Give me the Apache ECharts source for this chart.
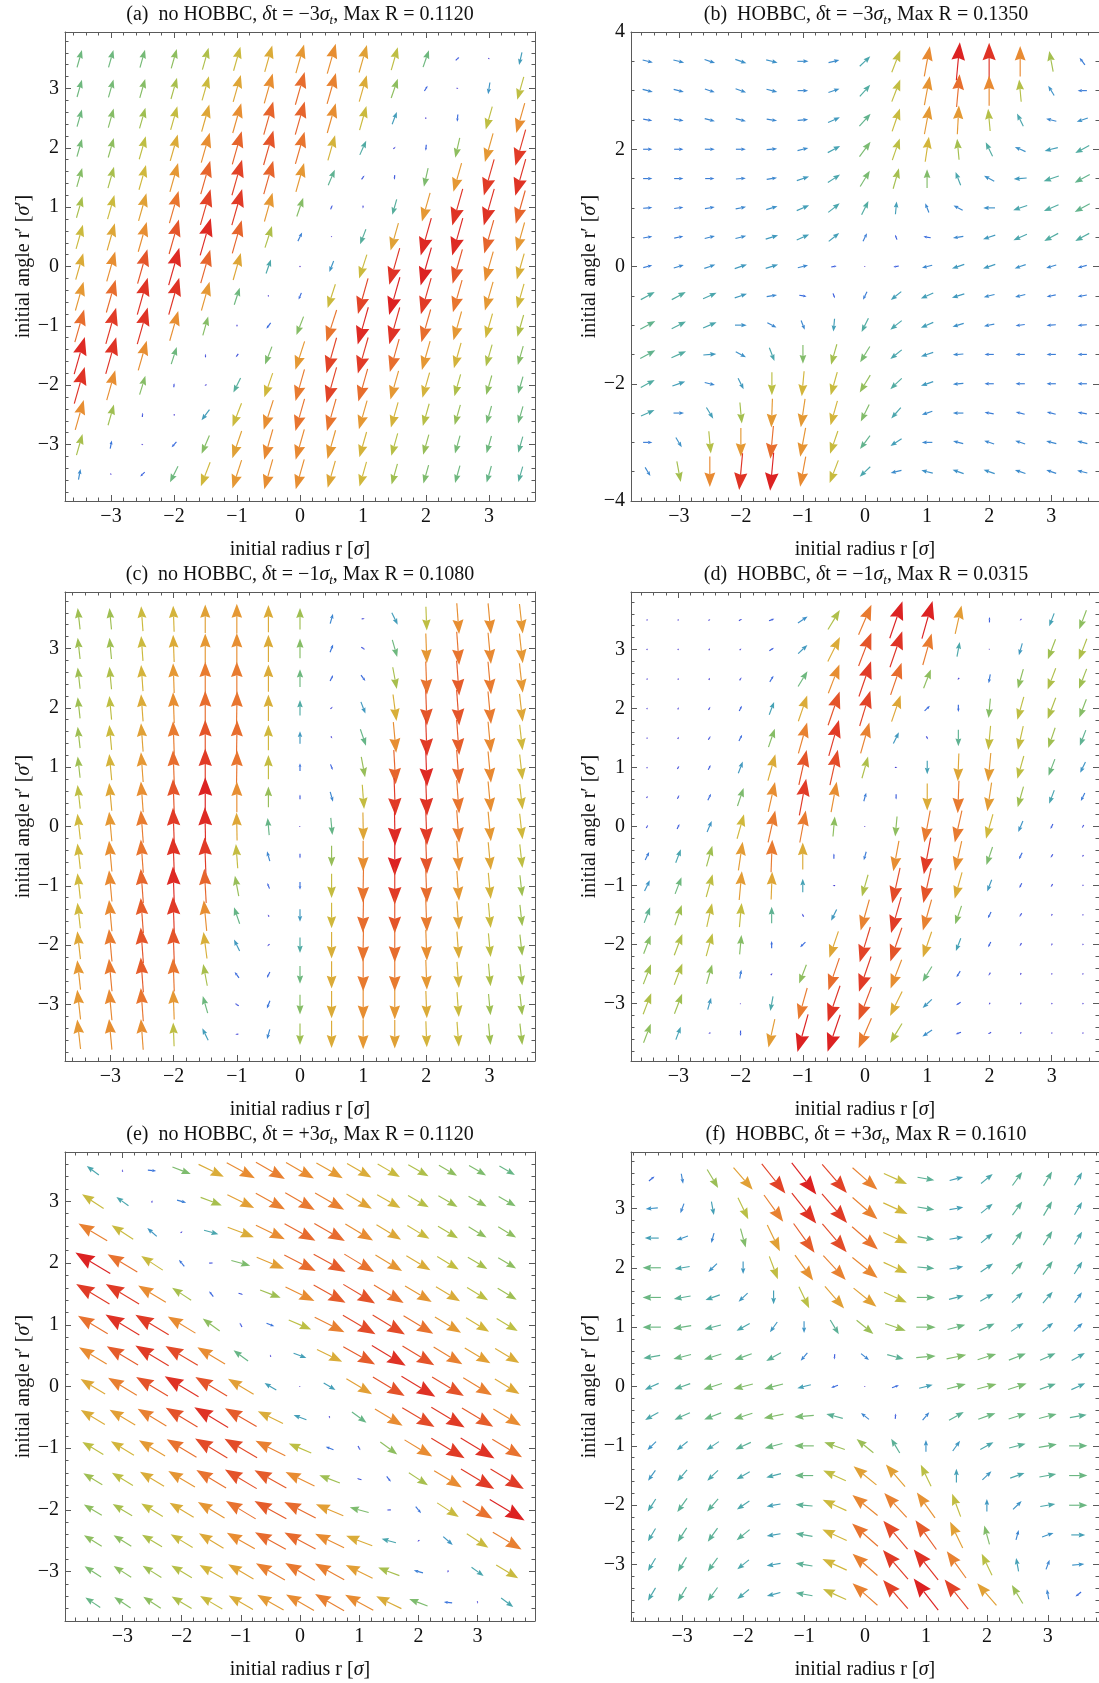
<!DOCTYPE html>
<html><head><meta charset="utf-8">
<script src="https://cdn.jsdelivr.net/npm/echarts@6/dist/echarts.min.js"></script>
<style>html,body{margin:0;padding:0;background:#fff}#c{width:1099px;height:1683px}</style>
</head><body><div id="c"></div>
<script>
// ---------------- DATA ----------------
const gridX = [-3.5,-3,-2.5,-2,-1.5,-1,-0.5,0,0.5,1,1.5,2,2.5,3,3.5];
const gridY = [3.5,3,2.5,2,1.5,1,0.5,0,-0.5,-1,-1.5,-2,-2.5,-3,-3.5];

// arrow lengths (hundredths of an axis unit) and directions (degrees), rows top -> bottom
const lenA = [
[30,30,31,34,38,42,46,50,52,48,40,30,8,3,22],
[30,31,33,37,42,47,52,57,54,46,34,10,3,20,40],
[30,33,36,41,47,52,58,58,52,42,22,3,12,40,52],
[31,34,40,46,52,58,60,56,44,26,5,10,34,50,63],
[33,37,43,50,58,62,58,50,28,8,8,32,50,63,64],
[37,42,48,56,62,63,50,33,8,5,27,50,64,64,58],
[42,47,52,60,65,58,38,16,2,27,48,65,65,58,50],
[46,52,60,65,58,47,25,1,20,42,64,66,60,52,45],
[50,57,64,64,50,30,3,12,42,62,66,63,56,50,43],
[57,63,64,52,33,4,12,33,56,65,64,57,50,43,38],
[65,64,52,30,6,7,32,50,62,63,57,50,44,38,33],
[64,52,33,7,4,27,43,55,62,57,50,44,38,34,30],
[52,36,7,3,22,42,52,56,56,50,44,39,35,31,30],
[37,14,3,12,33,48,53,53,50,44,39,35,31,30,28],
[18,3,10,30,43,50,52,52,47,43,36,32,30,29,27]
];
const angA = [
[75,75,75,75,75,75,75,75,75,75,75,72,45,320,258],
[75,75,75,75,75,75,75,75,75,75,72,60,340,262,255],
[75,75,75,75,75,75,75,75,75,75,70,0,265,255,255],
[75,75,75,75,75,75,75,75,75,67,45,265,258,255,255],
[75,75,75,75,75,75,75,75,68,55,265,258,255,255,255],
[75,75,75,75,75,75,75,72,70,265,255,255,255,255,255],
[75,75,75,75,75,75,73,65,270,250,255,255,255,255,255],
[75,75,75,75,75,75,72,90,250,253,255,255,255,255,255],
[75,75,75,75,75,73,300,248,253,255,255,255,255,255,255],
[75,75,75,75,75,270,235,250,253,255,255,255,255,255,255],
[75,75,75,73,90,235,250,253,255,255,255,255,255,255,255],
[75,75,74,85,220,245,252,255,255,255,255,255,255,255,255],
[75,75,85,180,235,250,253,255,255,255,255,255,255,255,255],
[75,80,330,230,248,252,255,255,255,255,255,255,255,255,255],
[80,315,225,245,250,253,255,255,255,255,255,255,255,255,255]
];

const lenB = [
[17,18,18,19,19,18,18,24,40,52,65,63,52,36,15],
[17,17,17,18,18,17,19,26,40,50,56,52,38,19,15],
[15,16,17,17,17,17,21,28,41,49,49,38,24,17,19],
[15,15,16,16,17,18,23,31,39,43,36,26,19,22,26],
[15,15,15,16,17,21,24,31,36,32,24,19,21,26,28],
[15,15,16,17,19,22,24,26,22,17,17,19,24,26,28],
[15,15,17,18,21,22,22,15,9,12,17,21,24,26,26],
[15,17,19,21,21,17,9,2,9,17,21,21,19,17,15],
[26,26,24,21,17,12,9,15,22,22,21,18,17,15,15],
[28,26,24,19,17,17,22,26,24,22,19,17,15,15,15],
[28,26,21,19,24,32,36,31,24,21,17,15,15,15,15],
[26,22,17,21,39,43,41,34,26,21,17,15,15,15,15],
[24,17,22,36,49,49,43,32,24,18,17,15,15,15,15],
[15,19,38,49,56,50,41,28,22,17,17,17,17,17,17],
[17,36,52,63,65,52,41,24,18,19,19,19,18,17,17]
];
const angB = [
[345,345,340,340,345,0,15,45,70,80,85,90,90,100,125],
[345,345,340,340,345,0,20,50,70,80,85,90,95,120,180],
[350,350,345,345,350,5,25,50,72,80,87,95,115,165,200],
[0,0,0,0,5,15,30,55,72,82,95,115,155,195,210],
[0,0,0,5,10,20,35,60,75,90,110,150,185,200,210],
[5,8,10,12,18,25,40,65,85,110,150,180,200,205,210],
[10,12,15,15,18,25,40,65,110,170,190,200,205,210,210],
[15,18,20,20,18,15,10,0,190,195,200,200,200,198,195],
[30,30,25,20,10,350,290,245,220,205,198,195,195,192,190],
[30,28,25,0,330,290,265,245,220,205,198,192,188,185,185],
[30,25,5,330,290,270,255,240,220,200,185,180,180,180,180],
[30,20,345,295,270,265,255,240,225,200,185,180,180,180,180],
[25,0,300,275,268,262,255,245,230,200,180,170,165,165,170],
[0,300,275,270,265,260,252,235,215,180,165,160,160,165,165],
[300,280,270,265,265,260,250,225,195,165,160,160,160,160,165]
];

const lenC = [
[36,36,42,44,48,50,46,36,17,5,22,40,52,52,50],
[36,36,42,46,50,52,46,33,14,7,30,50,56,53,50],
[36,38,44,50,55,55,46,30,11,12,37,56,59,55,50],
[36,40,46,52,57,56,45,26,5,21,45,60,60,55,47],
[36,42,48,55,60,57,43,21,4,29,52,63,59,53,43],
[36,44,50,57,63,56,41,13,10,35,58,65,58,53,43],
[40,47,52,60,66,52,35,8,17,41,63,64,56,52,43],
[43,50,55,63,65,47,29,2,29,47,65,63,55,50,43],
[43,52,56,64,63,41,17,8,35,52,66,60,52,47,40],
[43,53,58,65,58,35,10,13,41,56,63,57,50,44,36],
[43,53,59,63,52,29,4,21,43,57,60,55,48,42,36],
[47,55,60,60,45,21,5,26,45,56,57,52,46,40,36],
[50,55,59,56,37,12,11,30,46,55,55,50,44,38,36],
[50,53,56,50,30,7,14,33,46,52,50,46,42,36,36],
[50,52,52,40,22,5,17,36,46,50,48,44,42,36,36]
];
const angC = [
[96,95,94,92,90,90,90,90,75,10,295,272,274,275,276],
[96,95,94,92,90,90,90,90,70,330,285,272,274,275,276],
[96,95,94,92,90,90,90,90,65,305,280,272,274,275,276],
[96,95,94,92,90,89,90,90,45,290,277,272,274,275,276],
[96,95,94,92,90,89,90,90,300,288,275,272,274,275,276],
[96,95,94,92,90,89,90,90,290,280,273,272,274,275,276],
[96,95,94,92,90,90,90,90,285,274,272,272,274,275,276],
[96,95,94,92,91,91,95,0,275,271,271,272,274,275,276],
[96,95,94,92,92,94,105,270,270,270,270,272,274,275,276],
[96,95,94,92,93,100,110,270,270,269,270,272,274,275,276],
[96,95,94,92,95,108,120,270,270,269,270,272,274,275,276],
[96,95,94,92,97,115,225,270,270,269,270,272,274,275,276],
[96,95,94,92,100,125,245,270,270,270,270,272,274,275,276],
[96,95,94,92,105,150,250,270,270,270,270,272,274,275,276],
[96,95,94,92,115,190,255,270,270,270,270,272,274,275,276]
];

const lenD = [
[3,3,4,6,9,19,38,55,66,66,49,9,4,23,34],
[3,3,4,4,9,21,46,60,64,55,25,2,21,36,38],
[3,3,4,6,12,30,52,63,57,34,4,15,34,38,36],
[3,4,6,10,23,46,60,62,47,12,12,33,40,38,33],
[3,4,7,12,33,54,63,54,21,6,28,41,41,36,28],
[3,6,9,21,46,60,61,38,4,23,47,49,40,30,20],
[4,7,12,32,52,63,52,15,9,46,55,49,36,24,15],
[6,9,20,43,55,55,34,2,34,55,55,43,20,9,6],
[15,24,36,49,55,46,9,15,52,63,52,32,12,7,4],
[20,30,40,49,47,23,4,38,61,60,46,21,9,6,3],
[28,36,41,41,28,6,21,54,63,54,33,12,7,4,3],
[33,38,40,33,12,12,47,62,60,46,23,10,6,4,3],
[36,38,34,15,4,34,57,63,52,30,12,6,4,3,3],
[38,36,21,2,25,55,64,60,46,21,9,4,4,3,3],
[34,23,4,9,49,66,66,55,38,19,9,6,4,3,3]
];
const angD = [
[60,60,45,30,20,35,60,68,72,75,78,90,225,250,250],
[60,60,60,45,35,45,65,70,72,75,80,0,255,250,250],
[60,60,60,60,60,60,70,72,72,70,225,260,255,250,250],
[60,60,60,65,70,72,72,74,72,45,270,265,255,250,250],
[60,60,60,65,72,75,75,75,65,300,270,265,258,252,250],
[60,60,65,70,75,78,78,75,0,270,268,265,255,250,245],
[60,65,65,72,78,80,80,75,270,270,268,262,255,250,245],
[60,65,68,75,78,80,85,0,265,260,258,255,248,245,240],
[65,70,75,82,88,90,90,255,260,260,258,252,245,240,240],
[65,70,75,85,88,90,180,255,258,258,255,250,245,240,240],
[70,72,78,85,90,120,245,255,255,255,252,245,240,240,240],
[70,70,75,85,90,225,252,254,252,252,250,245,240,240,240],
[70,70,75,80,45,250,252,252,250,240,240,240,240,240,240],
[70,70,75,0,260,255,252,250,245,225,215,240,240,240,240],
[70,70,210,270,258,255,252,248,240,215,200,210,240,240,240]
];

const lenE = [
[25,4,14,33,47,54,56,54,51,47,43,39,35,33,30],
[43,25,4,16,38,50,56,57,56,49,45,40,37,35,33],
[56,43,21,4,25,47,54,59,59,54,48,43,39,35,35],
[68,58,43,14,7,33,50,59,61,58,52,47,42,38,35],
[65,65,54,38,11,8,37,54,61,62,58,52,47,41,37],
[58,66,65,54,35,8,14,41,56,63,63,58,51,45,41],
[54,61,65,63,54,30,4,23,47,61,66,62,56,50,47],
[48,56,62,66,62,50,23,2,23,50,62,66,62,56,48],
[47,50,56,62,66,61,47,23,4,30,54,63,65,61,54],
[41,45,51,58,63,63,56,41,14,8,35,54,65,66,58],
[37,41,47,52,58,62,61,54,37,8,11,38,54,65,65],
[35,38,42,47,52,58,61,59,50,33,7,14,43,58,68],
[35,35,39,43,48,54,59,59,54,47,25,4,21,43,56],
[33,35,37,40,45,49,56,57,56,50,38,16,4,25,43],
[30,33,35,39,43,47,51,54,56,54,47,33,14,4,25]
];
const angE = [
[145,100,355,340,335,332,331,331,331,331,331,331,331,331,331],
[148,145,80,345,340,335,332,331,331,331,331,331,331,331,331],
[150,148,140,30,345,340,335,332,331,330,330,330,330,330,330],
[150,150,148,130,0,345,338,334,332,330,330,330,330,330,330],
[150,150,150,148,130,345,340,335,332,330,330,330,330,330,330],
[150,150,150,150,145,120,340,338,334,331,330,330,330,330,330],
[150,150,150,150,150,145,110,340,335,332,330,330,330,330,330],
[150,150,150,150,150,150,150,0,330,330,330,330,330,330,330],
[150,150,150,150,150,151,155,160,290,325,330,330,330,330,330],
[150,150,150,150,150,151,154,158,160,300,325,330,330,330,330],
[150,150,150,150,150,150,152,155,160,165,310,328,330,330,330],
[150,150,150,150,150,150,152,154,158,165,180,310,328,330,330],
[149,149,150,150,150,151,152,153,155,160,165,210,320,328,330],
[148,148,149,150,151,151,151,151,152,155,160,165,260,325,330],
[147,147,148,150,151,151,151,151,151,152,155,160,175,280,325]
];

const lenF = [
[12,17,36,49,63,67,63,55,42,28,23,25,28,28,25],
[20,17,23,40,55,65,64,55,44,28,23,25,28,28,25],
[23,20,17,33,49,60,62,57,44,28,23,25,28,28,25],
[30,25,20,21,41,52,55,54,43,28,23,25,28,28,25],
[30,28,25,21,23,40,49,49,41,30,25,25,25,25,21],
[30,30,28,25,21,20,28,36,36,32,30,28,25,23,20],
[28,30,30,30,28,17,9,17,28,32,33,32,30,28,25],
[25,28,32,33,32,23,12,2,12,23,32,33,32,28,25],
[25,28,30,32,33,32,28,17,9,17,28,30,30,30,28],
[20,23,25,28,30,32,36,36,28,20,21,25,28,30,30],
[21,25,25,25,25,30,41,49,49,40,23,21,25,28,30],
[25,28,28,25,23,28,43,54,55,52,41,21,20,25,30],
[25,28,28,28,23,28,44,57,62,60,49,33,17,20,23],
[25,28,28,25,23,28,44,55,64,65,55,40,23,17,20],
[25,28,28,25,23,28,42,55,63,67,63,49,36,17,12]
];
const angF = [
[40,280,300,310,308,307,310,318,335,350,15,40,55,60,60],
[185,250,280,295,305,308,310,318,335,350,10,40,55,60,60],
[180,200,255,285,295,305,310,318,335,350,10,40,55,58,60],
[180,190,225,270,290,305,312,320,335,355,10,35,50,55,58],
[180,190,200,225,270,295,310,320,335,0,15,30,45,50,55],
[180,190,195,210,235,270,300,320,340,0,15,25,35,40,45],
[190,195,198,200,210,230,265,320,345,5,12,18,22,25,30],
[205,200,198,195,195,195,200,0,20,15,15,15,18,20,25],
[210,205,202,198,192,185,165,140,85,50,30,20,18,15,10],
[225,220,215,205,195,180,160,140,120,90,55,30,15,10,0],
[235,230,225,210,195,180,155,140,130,115,90,45,20,10,0],
[238,235,230,215,190,175,155,140,132,125,110,90,45,10,0],
[240,238,235,220,190,170,155,138,130,125,115,105,75,20,0],
[240,240,235,220,190,170,155,138,130,128,125,115,100,70,5],
[240,240,235,220,195,170,155,138,130,127,128,130,120,100,220]
];

// titles
const panelTags = ['(a)','(b)','(c)','(d)','(e)','(f)'];
const hobbcText = ['no HOBBC','HOBBC','no HOBBC','HOBBC','no HOBBC','HOBBC'];
const dtText = ['\u22123','\u22123','\u22121','\u22121','+3','+3'];
const maxRText = ['0.1120','0.1350','0.1080','0.0315','0.1120','0.1610'];

// ticks
const ticksInt = [-3,-2,-1,0,1,2,3];
const ticksEven = [-4,-2,0,2,4];
const minor02 = [-3.8,-3.6,-3.4,-3.2,-2.8,-2.6,-2.4,-2.2,-1.8,-1.6,-1.4,-1.2,-0.8,-0.6,-0.4,-0.2,0.2,0.4,0.6,0.8,1.2,1.4,1.6,1.8,2.2,2.4,2.6,2.8,3.2,3.4,3.6,3.8];
const minor05 = [-3.5,-3,-2.5,-1.5,-1,-0.5,0.5,1,1.5,2.5,3,3.5];

// axis extents (x half-range, y half-range) per panel
const xHalf = [3.73,3.77,3.72,3.76,3.97,3.84];
const yHalf = [3.95,4,3.95,3.97,3.8,3.95];

// ---------------- STYLE / LAYOUT ----------------
const FONT = '"Liberation Serif","Times New Roman",serif';
const FRAME = '#5a5a5a';
const TXT = '#111';
const palette = ['#5a2cc8','#4b3ed4','#4050dc','#3a62de','#3a72dc','#3c84d2','#3f94c6','#46a2b4','#52aca2','#6cb880','#86bd66',
                 '#a2bf50','#bcbf44','#d0b83c','#dcaa38','#e49a34','#e88a32','#e8742f','#e55a2b','#e13e27','#dc2222'];
const boxes = [
  {left:65, top:32}, {left:631, top:32},
  {left:65, top:592}, {left:631, top:592},
  {left:65, top:1152}, {left:631, top:1152}
];
const W = 470, H = 469;

const lens = [lenA,lenB,lenC,lenD,lenE,lenF];
const angs = [angA,angB,angC,angD,angE,angF];
const yMajor = [ticksInt,ticksEven,ticksInt,ticksInt,ticksInt,ticksInt];
const yMinor = [minor02,minor05,minor02,minor02,minor02,minor02];

const fmt = v => (v < 0 ? '\u2212' + (-v) : '' + v);
const rich = {
  n: {fontFamily: FONT, fontSize: 20, lineHeight: 24, fontWeight: 'normal', color: TXT},
  i: {fontFamily: FONT, fontSize: 20, lineHeight: 24, fontWeight: 'normal', fontStyle: 'italic', color: TXT},
  s: {fontFamily: FONT, fontSize: 13, lineHeight: 13, fontWeight: 'normal', fontStyle: 'italic', verticalAlign: 'bottom', color: TXT}
};

function renderArrow(params, api) {
  const x = api.value(0), y = api.value(1);
  const L = api.value(2) / 100, a = api.value(3) * Math.PI / 180;
  const dx = L * Math.cos(a), dy = L * Math.sin(a);
  const p0 = api.coord([x - dx / 2, y - dy / 2]);
  const p1 = api.coord([x + dx / 2, y + dy / 2]);
  const color = api.visual('color');
  const vx = p1[0] - p0[0], vy = p1[1] - p0[1];
  const len = Math.hypot(vx, vy);
  if (len < 0.8) {
    return {type: 'circle', shape: {cx: (p0[0] + p1[0]) / 2, cy: (p0[1] + p1[1]) / 2, r: 0.7}, style: {fill: color}};
  }
  const ux = vx / len, uy = vy / len, nx = -uy, ny = ux;
  const hl = len * 0.47, hw = hl * 0.38;
  const bx = p1[0] - ux * hl, by = p1[1] - uy * hl;
  const mx = p1[0] - ux * hl * 0.88, my = p1[1] - uy * hl * 0.88;
  return {
    type: 'group',
    children: [
      {type: 'line', shape: {x1: p0[0], y1: p0[1], x2: mx, y2: my}, style: {stroke: color, lineWidth: 1.15}},
      {type: 'polygon', shape: {points: [[p1[0], p1[1]], [bx + nx * hw, by + ny * hw], [mx, my], [bx - nx * hw, by - ny * hw]]}, style: {fill: color}}
    ]
  };
}

const option = {
  animation: false,
  backgroundColor: '#fff',
  title: [], grid: [], xAxis: [], yAxis: [], series: [], visualMap: []
};

for (let i = 0; i < 6; i++) {
  const b = boxes[i];
  const xr = xHalf[i], yr = yHalf[i];
  const inX = arr => arr.filter(v => v > -xr - 1e-9 && v < xr + 1e-9);
  const inY = arr => arr.filter(v => v > -yr - 1e-9 && v < yr + 1e-9);
  option.grid.push({left: b.left, top: b.top, width: W, height: H, show: false});
  option.title.push({
    text: `{n|${panelTags[i]}  ${hobbcText[i]}, }{i|\u03b4}{n|t = ${dtText[i]}}{i|\u03c3}{s|t}{n|, Max R = ${maxRText[i]}}`,
    left: b.left + W / 2, top: b.top - 29, textAlign: 'center', padding: 0,
    textStyle: {fontWeight: 'normal', rich: rich}
  });
  const xi = option.xAxis.length, yi = option.yAxis.length;
  const xBase = {type: 'value', gridIndex: i, min: -xr, max: xr, splitLine: {show: false}, axisPointer: {show: false}};
  const yBase = {type: 'value', gridIndex: i, min: -yr, max: yr, splitLine: {show: false}, axisPointer: {show: false}};
  const tick = (vals, len) => ({show: true, inside: true, length: len, customValues: vals, lineStyle: {color: FRAME, width: 1}});
  const line = show => ({show: show, onZero: false, lineStyle: {color: FRAME, width: 1}});
  const noLab = {show: false};
  option.xAxis.push(
    Object.assign({}, xBase, {position: 'bottom', axisLine: line(true), axisTick: tick(inX(ticksInt), 6),
      axisLabel: {show: true, customValues: inX(ticksInt), formatter: fmt, margin: 5, fontFamily: FONT, fontSize: 20, lineHeight: 22, color: TXT},
      name: '{n|initial radius r [}{i|\u03c3}{n|]}', nameLocation: 'middle', nameGap: 37, nameTextStyle: {rich: rich}}),
    Object.assign({}, xBase, {position: 'bottom', axisLine: line(false), axisTick: tick(inX(minor02), 3.5), axisLabel: noLab}),
    Object.assign({}, xBase, {position: 'top', axisLine: line(true), axisTick: tick(inX(ticksInt), 6), axisLabel: noLab}),
    Object.assign({}, xBase, {position: 'top', axisLine: line(false), axisTick: tick(inX(minor02), 3.5), axisLabel: noLab})
  );
  option.yAxis.push(
    Object.assign({}, yBase, {position: 'left', axisLine: line(true), axisTick: tick(inY(yMajor[i]), 6),
      axisLabel: {show: true, customValues: inY(yMajor[i]), formatter: fmt, margin: 6, fontFamily: FONT, fontSize: 20, lineHeight: 22, color: TXT},
      name: '{n|initial angle r\u2032 [}{i|\u03c3}{n|\u2032]}', nameLocation: 'middle', nameRotate: 90, nameGap: 28, nameTextStyle: {rich: rich}}),
    Object.assign({}, yBase, {position: 'left', axisLine: line(false), axisTick: tick(inY(yMinor[i]), 3.5), axisLabel: noLab}),
    Object.assign({}, yBase, {position: 'right', axisLine: line(true), axisTick: tick(inY(yMajor[i]), 6), axisLabel: noLab}),
    Object.assign({}, yBase, {position: 'right', axisLine: line(false), axisTick: tick(inY(yMinor[i]), 3.5), axisLabel: noLab})
  );
  const data = [];
  let maxL = 0;
  for (let r = 0; r < 15; r++) for (let c = 0; c < 15; c++) {
    data.push([gridX[c], gridY[r], lens[i][r][c], angs[i][r][c]]);
    maxL = Math.max(maxL, lens[i][r][c]);
  }
  option.visualMap.push({type: 'continuous', show: false, seriesIndex: i, dimension: 2, min: 0, max: maxL, inRange: {color: palette}});
  option.series.push({type: 'custom', xAxisIndex: xi, yAxisIndex: yi, data: data, encode: {x: 0, y: 1}, renderItem: renderArrow, silent: true, clip: false, z: 3});
}

const chart = echarts.init(document.getElementById('c'), null, {renderer: 'canvas', width: 1099, height: 1683});
chart.setOption(option);
</script>
</body></html>
